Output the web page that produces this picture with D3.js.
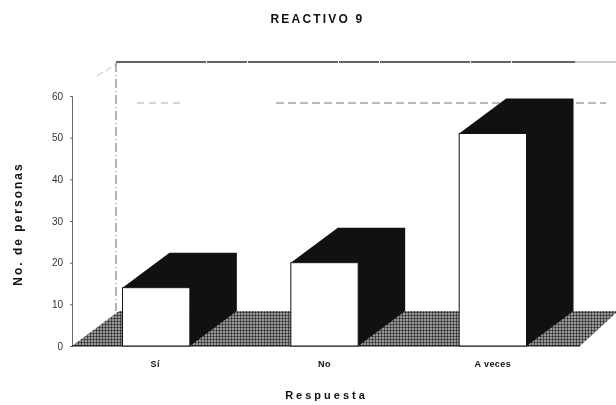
<!DOCTYPE html>
<html><head><meta charset="utf-8">
<script src="https://cdnjs.cloudflare.com/ajax/libs/d3/7.8.5/d3.min.js"></script>
<style>html,body{margin:0;padding:0;background:#fff}svg{display:block;filter:blur(.7px)}text{font-family:"Liberation Sans",Arial,sans-serif;fill:#111}</style>
</head><body><svg id="c" width="616" height="405"></svg>
<script>
const categories = ["Sí","No","A veces"];
const values = [14,20,51];
const yTicks = [0,10,20,30,40,50,60];
const svg = d3.select("#c");
const x = d3.scaleBand().domain(categories).range([72,577]).paddingInner(0.6).paddingOuter(0.3);
const y = d3.scaleLinear().domain([0,60]).range([346,96]);
const dx = 47, dy = -35;
const ink = "#111";
const defs = svg.append("defs");
const pat = defs.append("pattern").attr("id","hatch").attr("width",3).attr("height",3).attr("patternUnits","userSpaceOnUse");
pat.append("rect").attr("width",3).attr("height",3).attr("fill","#9a9a9a");
pat.append("path").attr("d","M0 0H3M0 0V3").attr("stroke","#111").attr("stroke-width",1.1);
// walls
const floorBack = y(0)+dy, wallTop = 62;
svg.append("path").attr("d",`M97 76L${72+dx-2} ${wallTop+2}`).attr("stroke","#aaa").attr("fill","none").attr("stroke-dasharray","7 3").attr("stroke-width",.8);
svg.append("line").attr("x1",116).attr("x2",116).attr("y1",wallTop+1).attr("y2",floorBack).attr("stroke","#666").attr("stroke-width",1).attr("stroke-dasharray","9 3 1 3");
svg.append("line").attr("x1",116).attr("x2",575).attr("y1",wallTop).attr("y2",wallTop).attr("stroke","#333").attr("stroke-width",1.3).attr("stroke-dasharray","90 1 40 1");
svg.append("line").attr("x1",575).attr("x2",616).attr("y1",wallTop).attr("y2",wallTop).attr("stroke","#999").attr("stroke-width",1);
svg.append("line").attr("x1",137).attr("x2",185).attr("y1",103).attr("y2",103).attr("stroke","#aaa").attr("stroke-dasharray","7 5");
svg.append("line").attr("x1",276).attr("x2",606).attr("y1",103).attr("y2",103).attr("stroke","#777").attr("stroke-dasharray","8 4");
// floor
svg.append("path").attr("fill","url(#hatch)")
  .attr("d",`M${x.range()[0]} ${y(0)}L${x.range()[0]+dx} ${floorBack}H616V${floorBack+2}L580 ${y(0)}Z`);
// y axis
const ay = svg.append("g").attr("transform","translate(72,0)").call(d3.axisLeft(y).tickValues(yTicks).tickSize(2).tickPadding(7));
ay.select(".domain").attr("stroke","#666").attr("stroke-width",1);
ay.selectAll("line").attr("stroke","#666");
ay.selectAll("text").attr("font-size",10).attr("font-weight","normal").style("fill","#333").style("font-family",'"Liberation Sans",Arial,sans-serif');
// floor front
svg.append("line").attr("x1",72).attr("x2",580).attr("y1",y(0)).attr("y2",y(0)).attr("stroke",ink).attr("stroke-width",1);
// bars
const bars = svg.selectAll("g.bar").data(categories.map((c,i)=>({c,v:values[i]}))).join("g").attr("class","bar");
bars.append("path").attr("fill",ink).attr("d",d=>{
  const l=x(d.c), r=l+x.bandwidth(), t=y(d.v), b=y(0);
  return `M${l} ${t}L${l+dx} ${t+dy}H${r+dx}V${b+dy}L${r} ${b}V${t}Z`;
});
bars.append("rect").attr("x",d=>x(d.c)).attr("y",d=>y(d.v)).attr("width",x.bandwidth()).attr("height",d=>y(0)-y(d.v)).attr("fill","#fff").attr("stroke",ink).attr("stroke-width",1);
// category labels
svg.selectAll("text.cat").data(categories).join("text").attr("class","cat").attr("x",d=>x(d)+x.bandwidth()/2-(d==="Sí"?1:0)).attr("y",367).attr("text-anchor","middle").attr("font-size",9).attr("font-weight","bold").attr("letter-spacing",.4).text(d=>d);
svg.append("text").attr("x",317.5).attr("y",23).attr("text-anchor","middle").attr("font-size",12).attr("font-weight","bold").attr("letter-spacing",2.2).text("REACTIVO 9");
svg.append("text").attr("x",326.5).attr("y",399).attr("text-anchor","middle").attr("font-size",11).attr("font-weight","bold").attr("letter-spacing",3).text("Respuesta");
svg.append("text").attr("transform","translate(22,224) rotate(-90)").attr("text-anchor","middle").attr("font-size",12).attr("font-weight","bold").attr("letter-spacing",2).text("No. de personas");
</script></body></html>
